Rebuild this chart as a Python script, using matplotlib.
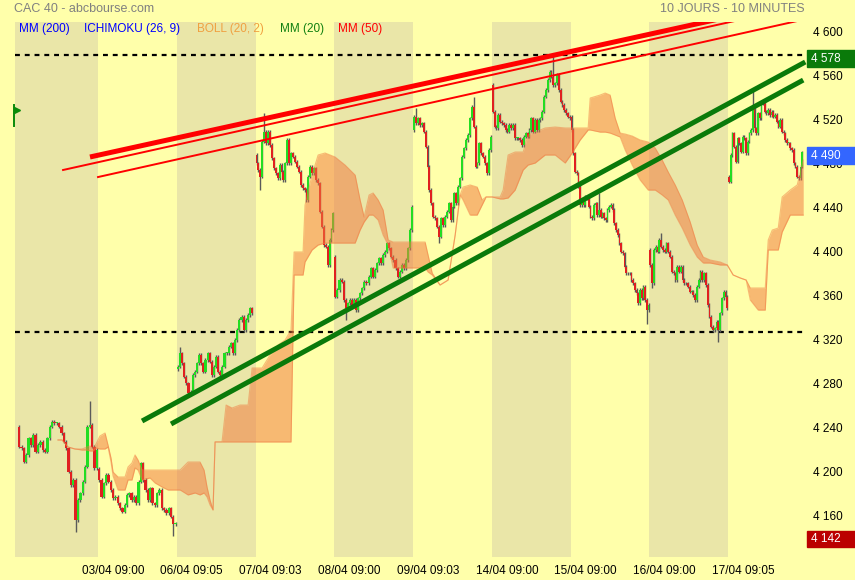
"""CAC 40 intraday chart, 10 days of 10 minute candles with Ichimoku cloud and trend lines."""

import matplotlib

matplotlib.use("Agg")
import matplotlib.pyplot as plt
import numpy as np
from matplotlib.patches import Rectangle
from matplotlib.transforms import blended_transform_factory

DAYS = ["02/04", "03/04", "06/04", "07/04", "08/04", "09/04", "14/04", "15/04", "16/04", "17/04"]
TICK_TIMES = ["09:00", "09:05", "09:03", "09:00", "09:03", "09:00", "09:00", "09:00", "09:05"]
SHADED_DAYS = [0, 2, 4, 6, 8]
# the first session of the window starts a little before its nominal day slot
SESSION_START = [-0.016, 1.0, 2.0, 3.0, 4.0, 5.0, 6.0, 7.0, 8.0, 9.0]
SESSION_SPAN = [1.016, 1.0, 0.97, 1.0, 1.0, 1.0, 1.0, 1.0, 1.0, 0.95]
X_START = -0.054

DAY_OPENS = [4241, 4203, 4293, 4487.5, 4395.2, 4510.2, 4551, 4522.2, 4401.3, 4467.9]

CLOSES_0204 = [4222.8, 4221.3, 4209.2, 4215.2, 4230.3, 4224.3, 4233.4, 4218.2, 4224.3, 4227.3,
               4219.8, 4218.2, 4230.3, 4240.9, 4245.5, 4244.0, 4244.0, 4240.9, 4234.9, 4227.3,
               4221.3, 4200.1, 4188.0, 4192.5, 4156.2, 4174.4, 4180.4, 4191.0, 4204.6, 4240.9,
               4242.4, 4222.8, 4203.1, 4219.8]
CLOSES_0304 = [4192.5, 4177.4, 4189.5, 4197.1, 4191.0, 4183.5, 4175.9, 4177.4, 4171.3, 4166.8,
               4163.8, 4169.8, 4178.9, 4180.4, 4174.4, 4177.4, 4171.3, 4191.0, 4207.7, 4192.5,
               4183.5, 4174.4, 4185.0, 4171.3, 4169.8, 4180.4, 4183.5, 4166.8, 4165.3, 4162.3,
               4166.8, 4159.3, 4152.3, 4153.2]
CLOSES_0604 = [4295.4, 4307.5, 4298.4, 4286.3, 4280.3, 4271.2, 4272.7, 4287.8, 4290.9, 4298.4,
               4306.0, 4298.4, 4290.9, 4301.4, 4307.5, 4299.9, 4287.8, 4295.4, 4304.5, 4290.9,
               4287.8, 4295.4, 4307.5, 4307.5, 4313.5, 4316.6, 4307.5, 4319.6, 4328.7, 4337.7,
               4340.8, 4328.7, 4337.7, 4342.3, 4348.3, 4343.8]
CLOSES_0704 = [4479.9, 4473.9, 4467.8, 4499.6, 4508.7, 4498.1, 4508.7, 4496.6, 4484.5, 4475.4,
               4470.8, 4466.3, 4478.4, 4472.4, 4464.8, 4479.9, 4501.1, 4479.9, 4489.0, 4486.0,
               4481.4, 4476.9, 4472.4, 4460.3, 4457.2, 4455.7, 4446.7, 4467.8, 4476.9, 4470.8,
               4475.4, 4464.8, 4461.8, 4436.1, 4422.4, 4405.8, 4404.3, 4387.7, 4410.4, 4419.4,
               4434.5]
CLOSES_0804 = [4358.9, 4365.0, 4374.1, 4372.5, 4355.9, 4348.3, 4352.9, 4355.9, 4349.9, 4355.9,
               4346.8, 4357.4, 4361.9, 4366.5, 4372.5, 4371.0, 4377.1, 4384.6, 4377.1, 4383.1,
               4389.2, 4393.7, 4389.2, 4396.7, 4399.8, 4407.3, 4402.8, 4395.2, 4392.2, 4384.6,
               4377.1, 4381.6, 4387.7, 4384.6, 4392.2, 4402.8, 4419.4, 4440.6]
CLOSES_0904 = [4522.3, 4516.2, 4520.8, 4514.7, 4516.2, 4508.7, 4495.1, 4476.9, 4455.7, 4443.6,
               4431.5, 4430.0, 4422.5, 4413.4, 4430.0, 4424.0, 4431.5, 4436.1, 4443.6, 4428.5,
               4440.6, 4452.7, 4443.6, 4458.8, 4466.3, 4486.0, 4493.5, 4501.1, 4505.6, 4520.8,
               4531.4, 4513.2, 4476.9, 4479.9, 4498.1, 4489.0, 4486.0, 4479.9, 4470.8, 4492.0,
               4504.1]
CLOSES_1404 = [4526.8, 4513.2, 4511.6, 4523.7, 4517.7, 4516.2, 4514.7, 4510.1, 4508.6, 4514.7,
               4511.6, 4514.7, 4502.6, 4502.6, 4502.6, 4501.1, 4496.5, 4504.1, 4507.1, 4504.1,
               4510.1, 4520.7, 4508.6, 4519.2, 4510.1, 4519.2, 4520.7, 4526.8, 4540.4, 4546.4,
               4555.5, 4563.1, 4558.5, 4551.0, 4552.5, 4560.0, 4546.4, 4535.8, 4532.8, 4528.3,
               4525.3, 4522.2, 4520.7]
CLOSES_1504 = [4510.1, 4489.0, 4472.3, 4470.8, 4458.7, 4442.1, 4446.6, 4442.1, 4449.6, 4448.1,
               4440.6, 4431.5, 4430.0, 4442.1, 4443.6, 4433.0, 4437.5, 4431.5, 4434.5, 4430.0,
               4428.5, 4437.5, 4440.6, 4442.1, 4437.5, 4425.4, 4419.4, 4414.8, 4407.3, 4399.7,
               4398.2, 4386.1, 4380.0, 4380.0, 4380.0, 4374.0, 4371.0, 4364.9, 4361.9, 4352.8,
               4364.9, 4357.4, 4368.0, 4355.9, 4346.8, 4351.3]
CLOSES_1604 = [4387.7, 4371.0, 4401.3, 4404.3, 4399.8, 4410.4, 4404.3, 4401.3, 4399.8, 4407.3,
               4399.8, 4395.2, 4381.6, 4380.1, 4374.1, 4386.2, 4381.6, 4386.2, 4374.1, 4371.0,
               4371.0, 4368.0, 4363.5, 4363.5, 4360.5, 4355.9, 4368.0, 4374.1, 4381.6, 4374.1,
               4380.1, 4369.5, 4351.4, 4340.8, 4331.7, 4328.7, 4330.2, 4336.3, 4328.7, 4343.8,
               4357.4, 4363.5, 4359.0, 4348.4]
CLOSES_1704 = [4463.3, 4487.5, 4507.2, 4495.1, 4481.5, 4502.6, 4498.1, 4490.5, 4504.2, 4502.6,
               4489.0, 4499.6, 4507.2, 4510.2, 4529.9, 4511.7, 4507.2, 4525.3, 4520.8, 4534.4,
               4535.9, 4526.8, 4525.3, 4528.4, 4523.8, 4526.8, 4522.3, 4523.8, 4517.8, 4513.2,
               4519.3, 4508.7, 4507.2, 4501.1, 4498.1, 4498.1, 4493.6, 4492.1, 4480.0, 4477.0,
               4467.9, 4466.3, 4477.0, 4490.0]

DAY_CLOSES = [CLOSES_0204, CLOSES_0304, CLOSES_0604, CLOSES_0704, CLOSES_0804,
              CLOSES_0904, CLOSES_1404, CLOSES_1504, CLOSES_1604, CLOSES_1704]

# long wicks keyed by (day, candle index)
HIGH_SPIKES = {(0, 30): 4264, (1, 18): 4209, (2, 1): 4313.6, (3, 4): 4525.3, (5, 1): 4529.8,
               (5, 31): 4540.4, (6, 0): 4553, (6, 33): 4578, (7, 16): 4452.7, (8, 6): 4416.4,
               (9, 14): 4548}
LOW_SPIKES = {(0, 24): 4145, (1, 32): 4142, (2, 5): 4269.7, (3, 2): 4455.7, (4, 5): 4337.8,
              (5, 13): 4407.3, (7, 44): 4334, (8, 1): 4366.5, (8, 38): 4318}

# Ichimoku cloud (kumo), time in day units
CLOUD_T = [0.492, 0.543, 0.619, 0.708, 0.797, 0.860, 0.899, 0.937, 0.974, 1.025, 1.089, 1.127,
           1.165, 1.191, 1.254, 1.343, 1.381, 1.431, 1.470, 1.508, 1.559, 1.660, 1.723, 1.813,
           1.888, 1.940, 2.042, 2.143, 2.232, 2.295, 2.346, 2.384, 2.422, 2.460, 2.486, 2.574,
           2.626, 2.701, 2.803, 2.905, 2.956, 3.083, 3.184, 3.286, 3.375, 3.450, 3.489, 3.603,
           3.628, 3.717, 3.794, 3.882, 4.009, 4.136, 4.264, 4.327, 4.378, 4.441, 4.492, 4.556,
           4.619, 4.683, 4.746, 4.962, 5.152, 5.190, 5.242, 5.342, 5.444, 5.534, 5.597, 5.634,
           5.724, 5.813, 5.876, 5.926, 6.003, 6.105, 6.143, 6.206, 6.295, 6.397, 6.460, 6.549,
           6.676, 6.803, 6.930, 7.019, 7.121, 7.222, 7.248, 7.374, 7.438, 7.501, 7.565, 7.628,
           7.692, 7.781, 7.882, 7.984, 8.073, 8.162, 8.238, 8.327, 8.416, 8.517, 8.606, 8.683,
           8.771, 8.898, 8.988, 9.063, 9.152, 9.228, 9.280, 9.380, 9.470, 9.508, 9.559, 9.635,
           9.685, 9.787, 9.876, 9.952]
CLOUD_TOP = [4228.9, 4228.9, 4222.5, 4220.7, 4220.7, 4222.5, 4223.4, 4221.6, 4225.2, 4232.5,
             4235.2, 4224.3, 4212.5, 4199.8, 4195.3, 4195.3, 4204.4, 4208.0, 4215.3, 4210.7,
             4201.6, 4201.6, 4201.6, 4201.6, 4201.6, 4201.6, 4201.6, 4208.9, 4208.9, 4208.9,
             4201.6, 4186.2, 4174.4, 4165.4, 4227.1, 4227.1, 4260.6, 4257.9, 4260.6, 4260.6,
             4294.2, 4294.2, 4306.0, 4315.1, 4319.6, 4328.7, 4399.5, 4399.5, 4442.1, 4469.3,
             4487.5, 4489.3, 4485.7, 4478.4, 4469.3, 4446.7, 4431.2, 4451.2, 4453.0, 4446.7,
             4437.6, 4410.4, 4408.5, 4408.5, 4408.5, 4396.7, 4380.4, 4369.5, 4374.0, 4414.9,
             4451.2, 4458.4, 4460.3, 4458.4, 4446.7, 4449.4, 4449.4, 4449.4, 4455.7, 4487.5,
             4490.2, 4490.2, 4505.6, 4508.3, 4512.0, 4512.9, 4512.0, 4512.0, 4512.0, 4512.0,
             4539.2, 4541.9, 4543.7, 4541.9, 4521.0, 4507.4, 4506.5, 4504.7, 4501.1, 4499.3,
             4493.8, 4482.9, 4472.1, 4460.3, 4446.7, 4426.7, 4405.8, 4394.9, 4392.2, 4390.4,
             4387.7, 4378.6, 4375.9, 4374.0, 4366.8, 4366.8, 4366.8, 4410.4, 4419.4, 4421.2,
             4449.4, 4455.7, 4460.3, 4482.9]
CLOUD_BOTTOM = [4228.9, 4228.9, 4222.5, 4220.7, 4219.8, 4219.8, 4218.9, 4218.9, 4221.6, 4220.7,
                4220.7, 4222.5, 4208.9, 4196.2, 4183.5, 4183.5, 4192.6, 4192.6, 4203.5, 4201.6,
                4192.6, 4194.4, 4189.9, 4186.2, 4183.5, 4183.5, 4183.5, 4179.0, 4180.8, 4179.0,
                4180.8, 4177.2, 4169.9, 4165.4, 4227.1, 4227.1, 4227.1, 4227.1, 4227.1, 4227.1,
                4227.1, 4227.1, 4227.1, 4227.1, 4227.1, 4227.1, 4378.6, 4378.6, 4390.4, 4401.3,
                4405.8, 4407.6, 4407.6, 4407.6, 4407.6, 4419.4, 4426.7, 4433.0, 4433.0, 4428.5,
                4414.9, 4405.8, 4385.0, 4385.0, 4385.0, 4381.3, 4378.6, 4369.5, 4374.0, 4414.9,
                4451.2, 4446.7, 4433.0, 4433.0, 4442.1, 4449.4, 4449.4, 4447.6, 4447.6, 4448.5,
                4455.7, 4473.9, 4478.4, 4480.2, 4487.5, 4487.5, 4480.2, 4489.3, 4501.1, 4510.2,
                4510.2, 4508.3, 4508.3, 4507.4, 4505.6, 4503.8, 4492.0, 4478.4, 4464.8, 4455.7,
                4455.7, 4451.2, 4446.7, 4433.0, 4421.2, 4405.8, 4394.9, 4389.5, 4389.5, 4387.7,
                4387.7, 4378.6, 4375.9, 4374.0, 4355.9, 4346.8, 4346.8, 4401.3, 4401.3, 4401.3,
                4417.6, 4433.0, 4433.0, 4433.0]

# drawn trend lines: (start day, start price, end day, end price)
RED_THICK = (0.898, 4485.7, 9.914, 4627.1)
RED_THIN = [(0.556, 4473.9, 9.914, 4622.3), (1.000, 4467.5, 9.876, 4609.1)]
GREEN_LINES = [(1.559, 4246.1, 9.978, 4571.9), (1.927, 4243.4, 9.952, 4555.5)]
LEVELS = [4578, 4327]
LEVEL_END = 9.978

Y_TICKS = [4160, 4200, 4240, 4280, 4320, 4360, 4400, 4440, 4480, 4520, 4560, 4600]
LAST_PRICE = 4490
HIGH_LABEL = 4578
LOW_LABEL = 4142

BG = "#FFFFAA"
BAND = "#EAE6A8"
UP = "#22DD22"
DOWN = "#E02020"
WICK = "#5A5A5A"
CLOUD = "#F07A40"
FONT = ["Liberation Sans", "DejaVu Sans"]


def fmt_price(value):
    return f"{value:,.0f}".replace(",", " ")


def candle_series():
    xs, opens, closes, highs, lows, widths = [], [], [], [], [], []
    sessions = zip(DAY_OPENS, DAY_CLOSES, SESSION_START, SESSION_SPAN)
    for day, (first_open, day_closes, start, span) in enumerate(sessions):
        n = len(day_closes)
        prev = first_open
        for i, close in enumerate(day_closes):
            xs.append(start + (i + 0.5) / n * span)
            opens.append(prev)
            closes.append(close)
            highs.append(HIGH_SPIKES.get((day, i), max(prev, close) + 1.5))
            lows.append(LOW_SPIKES.get((day, i), min(prev, close) - 1.5))
            widths.append(span / n)
            prev = close
    return [np.asarray(v) for v in (xs, opens, closes, highs, lows, widths)]


def main():
    plt.rcParams["font.family"] = FONT
    fig = plt.figure(figsize=(8.55, 5.8), dpi=100, facecolor=BG)
    ax = fig.add_axes([15 / 855, 1 - 557 / 580, 792 / 855, 535 / 580])
    ax.set_facecolor(BG)
    ax.set_xlim(X_START, 10)
    ax.set_ylim(4122.7, 4608.2)
    for spine in ax.spines.values():
        spine.set_visible(False)

    for day in SHADED_DAYS:
        ax.axvspan(day if day > 0 else X_START, day + 1, color=BAND, lw=0, zorder=0)

    for level in LEVELS:
        ax.plot([X_START, LEVEL_END], [level, level], color="black", lw=1.6, ls=(0, (2.2, 2.2)), zorder=1)

    xs, opens, closes, highs, lows, widths = candle_series()
    rising = closes >= opens
    ax.vlines(xs, lows, highs, color=WICK, lw=1.0, zorder=2)
    bottoms = np.minimum(opens, closes)
    heights = np.maximum(np.abs(closes - opens), 0.8)
    colors = np.where(rising, UP, DOWN)
    ax.bar(xs, heights, bottom=bottoms, width=widths, color=colors, lw=0, zorder=3)

    ax.fill_between(CLOUD_T, CLOUD_BOTTOM, CLOUD_TOP, color=CLOUD, alpha=0.52, lw=0, zorder=4)
    ax.plot(CLOUD_T, CLOUD_TOP, color=CLOUD, alpha=0.5, lw=0.8, zorder=4)
    ax.plot(CLOUD_T, CLOUD_BOTTOM, color=CLOUD, alpha=0.5, lw=0.8, zorder=4)

    x0, y0, x1, y1 = RED_THICK
    ax.plot([x0, x1], [y0, y1], color="#FF0000", lw=3.6, zorder=5, solid_capstyle="butt")
    for x0, y0, x1, y1 in RED_THIN:
        ax.plot([x0, x1], [y0, y1], color="#FF0000", lw=1.4, zorder=5)
    for x0, y0, x1, y1 in GREEN_LINES:
        ax.plot([x0, x1], [y0, y1], color="#0A7A0A", lw=3.6, zorder=5, solid_capstyle="butt")

    # small green flag on the left edge
    flag = blended_transform_factory(ax.transAxes, ax.transData)
    ax.plot([-0.001, -0.001], [4514, 4533], color="#0A8A0A", lw=1.4, transform=flag, clip_on=False, zorder=6)
    ax.plot([0.003], [4528], marker=">", color="#0A8A0A", ms=5, transform=flag, clip_on=False, zorder=6)

    ax.set_xticks([d + 0.19 for d in range(1, 10)])
    ax.set_xticklabels([f"{d} {t}" for d, t in zip(DAYS[1:], TICK_TIMES)],
                       family=["Liberation Sans Narrow", "Liberation Sans", "DejaVu Sans"], fontsize=8.5)
    ax.tick_params(axis="x", length=0, pad=6)
    ax.yaxis.tick_right()
    ax.set_yticks(Y_TICKS)
    ax.set_yticklabels([fmt_price(v) for v in Y_TICKS], fontsize=8.5)
    ax.tick_params(axis="y", length=0, pad=4)

    side = blended_transform_factory(ax.transAxes, ax.transData)
    box_w = 48 / 792
    for value, color in [(HIGH_LABEL, "#0A7A0A"), (LAST_PRICE, "#3366FF"), (LOW_LABEL, "#BB0000")]:
        center = value - 3
        ax.add_patch(Rectangle((1.0, center - 7.5), box_w, 15, transform=side, color=color,
                               clip_on=False, zorder=7))
        ax.text(1.005, center, fmt_price(value), transform=side, color="white", fontsize=8.5,
                ha="left", va="center", clip_on=False, zorder=8)

    fig.text(14 / 855, 1 - 9 / 580, "CAC 40 - abcbourse.com", color="#808080", fontsize=9, va="center")
    fig.text(805 / 855, 1 - 9 / 580, "10 JOURS - 10 MINUTES", color="#808080", fontsize=9,
             va="center", ha="right")
    legend = [(19, "MM (200)", "#0000FF"), (84, "ICHIMOKU (26, 9)", "#0000FF"),
              (197, "BOLL (20, 2)", "#F0A040"), (280, "MM (20)", "#108010"), (338, "MM (50)", "#FF0000")]
    for x, label, color in legend:
        fig.text(x / 855, 1 - 29 / 580, label, color=color, fontsize=8.5, va="center")

    fig.savefig("out.png", dpi=100, facecolor=BG)
    plt.close(fig)


if __name__ == "__main__":
    main()
